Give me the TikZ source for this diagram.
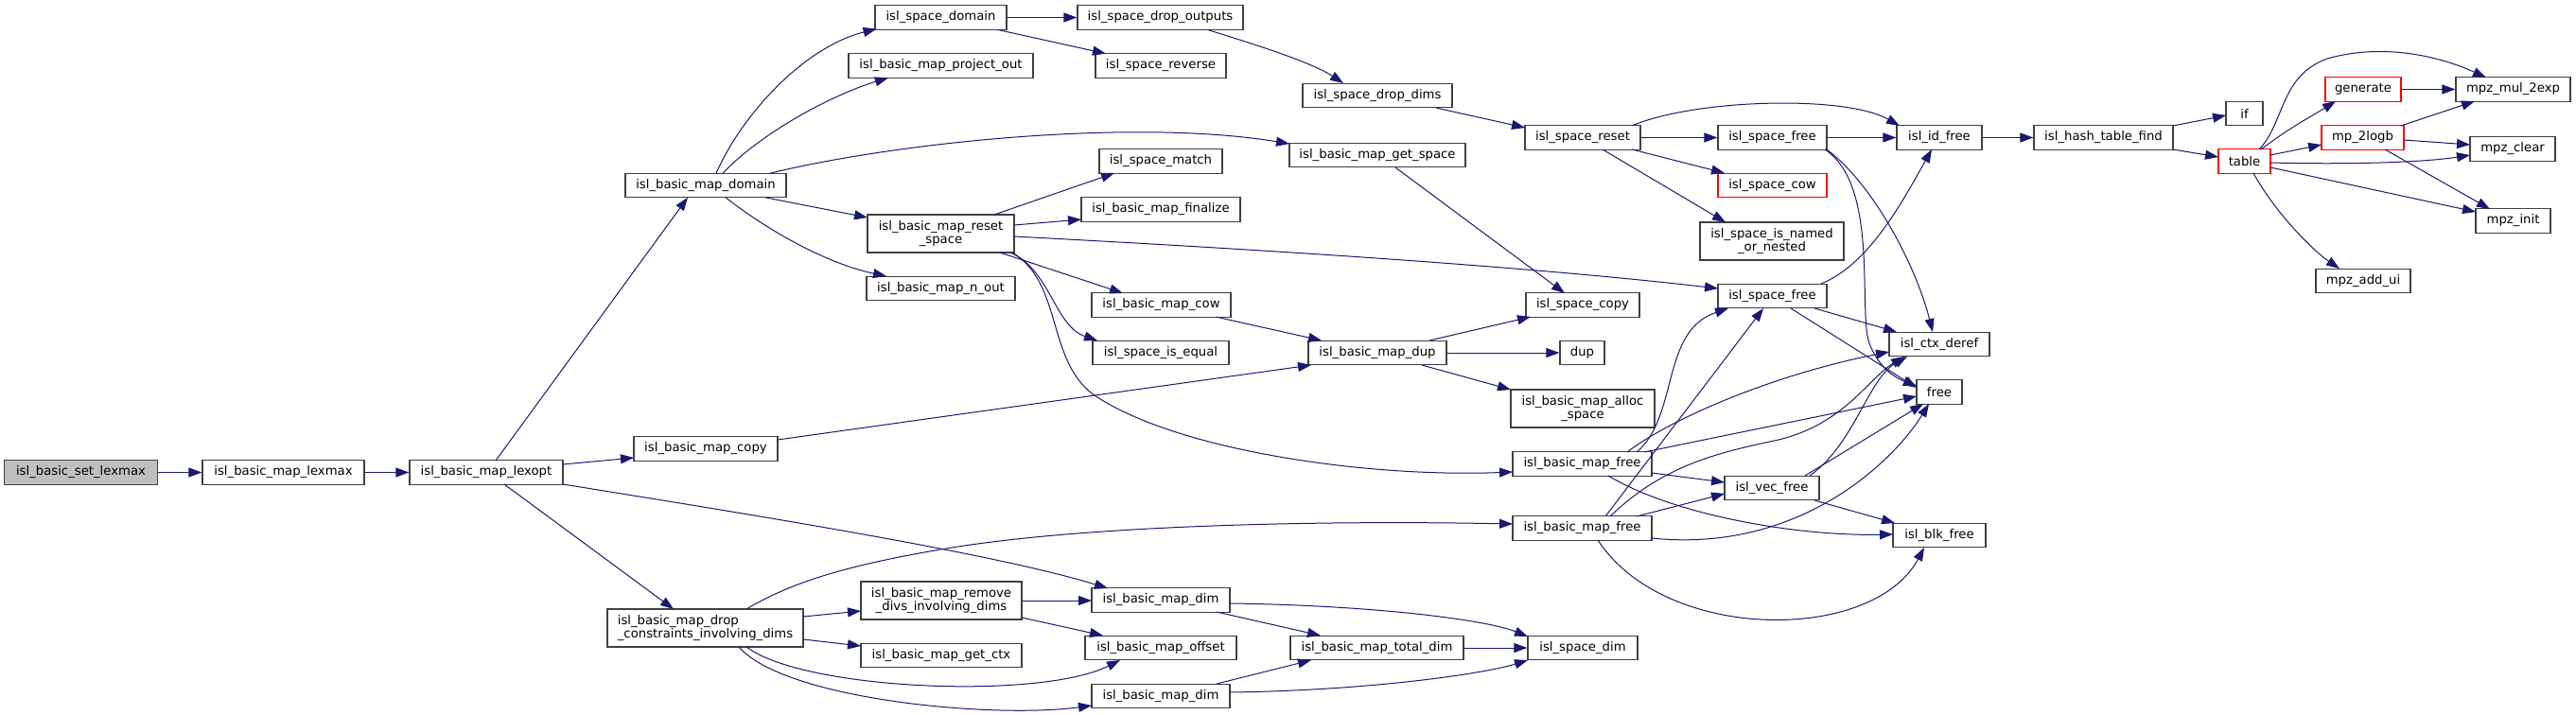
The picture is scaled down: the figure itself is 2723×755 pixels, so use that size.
\documentclass[tikz,border=0pt]{standalone}
\usepackage{fontspec}
\setmainfont{DejaVu Sans}
\usetikzlibrary{arrows.meta}
\definecolor{edgec}{HTML}{191970}
\definecolor{bord}{HTML}{404040}
\begin{document}
\begin{tikzpicture}[x=0.5pt,y=-0.5pt,
  box/.style={draw=bord, line width=0.6pt, fill=white, inner sep=0pt,
    minimum height=12.75pt, font=\fontsize{6.62pt}{7.3pt}\selectfont},
  bw/.style={minimum width=#1*0.5pt},
  two/.style={minimum height=20pt, align=center},
  twol/.style={minimum height=20pt, align=left},
  redbox/.style={draw=red},
  root/.style={fill=gray!50},
  e/.style={draw=edgec, line width=0.5pt, -{Triangle[length=7pt,width=5pt]}}]
\useasboundingbox (0,0) rectangle (2723,755);

% nodes
\node[box,root,bw=162] (n1) at (85.5,499.5) {isl\_basic\_set\_lexmax};
\node[box,bw=171] (n2) at (299.5,499.5) {isl\_basic\_map\_lexmax};
\node[box,bw=162] (n3) at (514,499.5) {isl\_basic\_map\_lexopt};
\node[box,bw=170] (n4) at (746,196) {isl\_basic\_map\_domain};
\node[box,bw=152] (n5) at (746,474.5) {isl\_basic\_map\_copy};
\node[box,twol,bw=207] (n6) at (745.5,664) {isl\_basic\_map\_drop\\\_constraints\_involving\_dims};
\node[box,bw=139] (n7) at (994.5,18.5) {isl\_space\_domain};
\node[box,bw=195] (n8) at (994.5,69.5) {isl\_basic\_map\_project\_out};
\node[box,two,bw=155] (n9) at (994.5,247) {isl\_basic\_map\_reset\\\_space};
\node[box,bw=157] (n10) at (994.5,305) {isl\_basic\_map\_n\_out};
\node[box,two,bw=170] (n11) at (995,635) {isl\_basic\_map\_remove\\\_divs\_involving\_dims};
\node[box,bw=170] (n12) at (995,693) {isl\_basic\_map\_get\_ctx};
\node[box,bw=175] (n13) at (1226.5,18.5) {isl\_space\_drop\_outputs};
\node[box,bw=138] (n14) at (1227,69.5) {isl\_space\_reverse};
\node[box,bw=130] (n15) at (1227,170.5) {isl\_space\_match};
\node[box,bw=168] (n16) at (1227,221.5) {isl\_basic\_map\_finalize};
\node[box,bw=147] (n17) at (1227.5,322.5) {isl\_basic\_map\_cow};
\node[box,bw=144] (n18) at (1227,373) {isl\_space\_is\_equal};
\node[box,bw=146] (n19) at (1227,634.5) {isl\_basic\_map\_dim};
\node[box,bw=160] (n20) at (1227,685) {isl\_basic\_map\_offset};
\node[box,bw=146] (n21) at (1227,736) {isl\_basic\_map\_dim};
\node[box,bw=158] (n22) at (1456,101) {isl\_space\_drop\_dims};
\node[box,bw=186] (n23) at (1456,164) {isl\_basic\_map\_get\_space};
\node[box,bw=146] (n24) at (1456,373) {isl\_basic\_map\_dup};
\node[box,bw=183] (n25) at (1455.5,685) {isl\_basic\_map\_total\_dim};
\node[box,bw=122] (n26) at (1673,145.5) {isl\_space\_reset};
\node[box,bw=120] (n27) at (1673,322.5) {isl\_space\_copy};
\node[box,bw=47] (n28) at (1672.5,373) {dup};
\node[box,two,bw=152] (n29) at (1673,432) {isl\_basic\_map\_alloc\\\_space};
\node[box,bw=147] (n30) at (1672.5,490.5) {isl\_basic\_map\_free};
\node[box,bw=147] (n31) at (1672.5,558.5) {isl\_basic\_map\_free};
\node[box,bw=116] (n32) at (1673,685) {isl\_space\_dim};
\node[box,bw=115] (n33) at (1873.5,145.5) {isl\_space\_free};
\node[box,redbox,bw=115] (n34) at (1873.5,196) {isl\_space\_cow};
\node[box,two,bw=152] (n35) at (1873,255) {isl\_space\_is\_named\\\_or\_nested};
\node[box,bw=115] (n36) at (1873.5,313) {isl\_space\_free};
\node[box,bw=100] (n37) at (1873,516) {isl\_vec\_free};
\node[box,bw=90] (n38) at (2050,145.5) {isl\_id\_free};
\node[box,bw=106] (n39) at (2050,364) {isl\_ctx\_deref};
\node[box,bw=48] (n40) at (2050,414.5) {free};
\node[box,bw=98] (n41) at (2050,566) {isl\_blk\_free};
\node[box,bw=147] (n42) at (2223.5,145.5) {isl\_hash\_table\_find};
\node[box,bw=39] (n43) at (2372.5,120) {if};
\node[box,redbox,bw=55] (n44) at (2372.5,170.5) {table};
\node[box,redbox,bw=80] (n45) at (2498,94.5) {generate};
\node[box,redbox,bw=87] (n46) at (2497.5,145.5) {mp\_2logb};
\node[box,bw=100] (n47) at (2498,297) {mpz\_add\_ui};
\node[box,bw=121] (n48) at (2656.5,94.5) {mpz\_mul\_2exp};
\node[box,bw=90] (n49) at (2656,157.5) {mpz\_clear};
\node[box,bw=79] (n50) at (2656.5,233.5) {mpz\_init};

% edges
\draw[e] (n1) -- (n2);
\draw[e] (n2) -- (n3);
\draw[e] ([shift={(10,-12.5)}]n3.center) -- ([shift={(-19,12.8)}]n4.center);
\draw[e] ([shift={(81,-8.5)}]n3.center) -- ([shift={(-76,9.5)}]n5.center);
\draw[e] ([shift={(81,12.5)}]n3.center) .. controls (800,545) and (1050,585) .. ([shift={(-56,-12.5)}]n19.center);
\draw[e] ([shift={(19,12.5)}]n3.center) -- ([shift={(-33.5,-20)}]n6.center);
\draw[e] ([shift={(11,-12.8)}]n4.center) .. controls (785,120) and (850,50) .. ([shift={(-68,12)}]n7.center);
\draw[e] ([shift={(18,-12.8)}]n4.center) .. controls (805,140) and (880,100) .. ([shift={(-55.5,12.8)}]n8.center);
\draw[e] ([shift={(68,-12.8)}]n4.center) .. controls (950,150) and (1200,125) .. ([shift={(-93,-12)}]n23.center);
\draw[e] ([shift={(63,12.8)}]n4.center) -- ([shift={(-77.5,-17)}]n9.center);
\draw[e] ([shift={(21,12.8)}]n4.center) .. controls (820,250) and (880,280) .. ([shift={(-57.5,-13)}]n10.center);
\draw[e] (n7) -- (n13);
\draw[e] ([shift={(59.5,12.8)}]n7.center) -- ([shift={(-58,-12.8)}]n14.center);
\draw[e] ([shift={(49.5,12.8)}]n13.center) .. controls (1320,45) and (1385,65) .. ([shift={(-36,-13)}]n22.center);
\draw[e] ([shift={(62,13)}]n22.center) -- ([shift={(-61,-10.5)}]n26.center);
\draw[e] ([shift={(56.5,-20)}]n9.center) -- ([shift={(-49,12.5)}]n15.center);
\draw[e] ([shift={(77.5,-9)}]n9.center) -- ([shift={(-84,10.5)}]n16.center);
\draw[e] ([shift={(77.5,3)}]n9.center) .. controls (1300,262) and (1600,280) .. ([shift={(-57.5,-8)}]n36.center);
\draw[e] ([shift={(62.5,20)}]n9.center) -- ([shift={(-40.5,-12.5)}]n17.center);
\draw[e] ([shift={(73.5,20)}]n9.center) .. controls (1110,285) and (1115,345) .. ([shift={(-67,-13)}]n18.center);
\draw[e] ([shift={(75.5,20)}]n9.center) .. controls (1125,300) and (1105,385) .. (1160,420) .. controls (1250,478) and (1450,505) .. ([shift={(-73.5,8.5)}]n30.center);
\draw[e] ([shift={(57.5,12.5)}]n17.center) -- ([shift={(-59,-13)}]n24.center);
\draw[e] ([shift={(76,-9.5)}]n5.center) -- ([shift={(-70,13)}]n24.center);
\draw[e] ([shift={(19,13)}]n23.center) -- ([shift={(-19,-12.5)}]n27.center);
\draw[e] ([shift={(55,-13)}]n24.center) -- ([shift={(-55,12.5)}]n27.center);
\draw[e] (n24) -- (n28);
\draw[e] ([shift={(47,13)}]n24.center) -- ([shift={(-76,-20)}]n29.center);
\draw[e] (n26) -- (n33);
\draw[e] ([shift={(52,-12.5)}]n26.center) .. controls (1790,105) and (1950,100) .. ([shift={(-42,-12.5)}]n38.center);
\draw[e] ([shift={(52,12.5)}]n26.center) -- ([shift={(-50.5,-13)}]n34.center);
\draw[e] ([shift={(21,12.5)}]n26.center) -- ([shift={(-49,-20)}]n35.center);
\draw[e] (n33) -- (n38);
\draw[e] ([shift={(57.5,12.5)}]n33.center) .. controls (1980,195) and (2025,280) .. ([shift={(-7,-13)}]n39.center);
\draw[e] ([shift={(55.5,12.5)}]n33.center) .. controls (1985,195) and (1965,320) .. (1975,360) .. controls (1985,390) and (2005,400) .. ([shift={(-24,-6.5)}]n40.center);
\draw[e] ([shift={(51.5,-13)}]n36.center) .. controls (1975,280) and (2010,215) .. ([shift={(-8,12.5)}]n38.center);
\draw[e] ([shift={(44.5,13)}]n36.center) -- ([shift={(-45,-13)}]n39.center);
\draw[e] ([shift={(19.5,13)}]n36.center) -- ([shift={(-24,-4.5)}]n40.center);
\draw[e] (n38) -- (n42);
\draw[e] ([shift={(73.5,-12.5)}]n42.center) -- ([shift={(-19.5,2)}]n43.center);
\draw[e] ([shift={(73.5,12.5)}]n42.center) -- ([shift={(-27.5,-4.5)}]n44.center);
\draw[e] ([shift={(17.5,-12.5)}]n44.center) .. controls (2420,135) and (2445,122) .. ([shift={(-29,12.5)}]n45.center);
\draw[e] ([shift={(27.5,-6.5)}]n44.center) -- ([shift={(-43.5,7.5)}]n46.center);
\draw[e] ([shift={(15.5,-12.5)}]n44.center) .. controls (2415,130) and (2410,80) .. (2460,62) .. controls (2520,45) and (2580,60) .. ([shift={(-28.5,-12.5)}]n48.center);
\draw[e] ([shift={(27.5,1.5)}]n44.center) .. controls (2480,174) and (2560,172) .. ([shift={(-45,6.5)}]n49.center);
\draw[e] ([shift={(27.5,6.5)}]n44.center) -- ([shift={(-39.5,-9.5)}]n50.center);
\draw[e] ([shift={(9.5,12.5)}]n44.center) .. controls (2405,225) and (2445,265) .. ([shift={(-25,-13)}]n47.center);
\draw[e] (n45) -- (n48);
\draw[e] ([shift={(40.5,-12.5)}]n46.center) -- ([shift={(-40.5,12.5)}]n48.center);
\draw[e] ([shift={(43.5,2.5)}]n46.center) -- ([shift={(-45,-4.5)}]n49.center);
\draw[e] ([shift={(23.5,12.5)}]n46.center) -- ([shift={(-24.5,-12.5)}]n50.center);
\draw[e] ([shift={(57.5,-12.5)}]n30.center) .. controls (1775,440) and (1755,350) .. ([shift={(-46.5,13)}]n36.center);
\draw[e] ([shift={(47.5,-12.5)}]n30.center) .. controls (1770,440) and (1880,395) .. ([shift={(-53,8)}]n39.center);
\draw[e] ([shift={(65.5,-12.5)}]n30.center) -- ([shift={(-24,4.5)}]n40.center);
\draw[e] ([shift={(73.5,9.5)}]n30.center) -- ([shift={(-50,-6)}]n37.center);
\draw[e] ([shift={(27.5,12.5)}]n30.center) .. controls (1770,545) and (1900,567) .. ([shift={(-49,-1)}]n41.center);
\draw[e] ([shift={(24.5,-12.5)}]n31.center) -- ([shift={(-9.5,13)}]n36.center);
\draw[e] ([shift={(29.5,-12.5)}]n31.center) .. controls (1760,490) and (1820,478) .. (1880,465) .. controls (1950,448) and (1975,400) .. ([shift={(-37,13)}]n39.center);
\draw[e] ([shift={(57.5,-12.5)}]n31.center) -- ([shift={(-50,6)}]n37.center);
\draw[e] ([shift={(73.5,10.5)}]n31.center) .. controls (1900,585) and (2000,490) .. ([shift={(-11,12.5)}]n40.center);
\draw[e] ([shift={(16.5,12.5)}]n31.center) .. controls (1760,680) and (1980,680) .. ([shift={(-16,13)}]n41.center);
\draw[e] ([shift={(40,-13)}]n37.center) .. controls (1960,470) and (1975,400) .. ([shift={(-34,13)}]n39.center);
\draw[e] ([shift={(35,-13)}]n37.center) -- ([shift={(-17,12.5)}]n40.center);
\draw[e] ([shift={(45,13)}]n37.center) -- ([shift={(-47,-13)}]n41.center);
\draw[e] ([shift={(43.5,-20)}]n6.center) .. controls (830,620) and (880,600) .. (1000,580) .. controls (1150,555) and (1400,550) .. ([shift={(-73.5,-4.5)}]n31.center);
\draw[e] ([shift={(103.5,-12)}]n6.center) -- ([shift={(-85,11)}]n11.center);
\draw[e] ([shift={(103.5,12)}]n6.center) -- ([shift={(-85,-10)}]n12.center);
\draw[e] ([shift={(43.5,20)}]n6.center) .. controls (850,730) and (1100,740) .. ([shift={(-43,13)}]n20.center);
\draw[e] ([shift={(35.5,20)}]n6.center) .. controls (830,740) and (1050,760) .. ([shift={(-73,10)}]n21.center);
\draw[e] ([shift={(85,0)}]n11.center) -- ([shift={(-73,0.5)}]n19.center);
\draw[e] ([shift={(85,18)}]n11.center) -- ([shift={(-61,-13)}]n20.center);
\draw[e] ([shift={(59,12.5)}]n19.center) -- ([shift={(-59.5,-13)}]n25.center);
\draw[e] ([shift={(73,3.5)}]n19.center) .. controls (1450,640) and (1570,655) .. ([shift={(-58,-12)}]n32.center);
\draw[e] ([shift={(59,-13)}]n21.center) -- ([shift={(-69.5,13)}]n25.center);
\draw[e] ([shift={(73,-4)}]n21.center) .. controls (1450,730) and (1570,712) .. ([shift={(-58,13)}]n32.center);
\draw[e] (n25) -- (n32);
\end{tikzpicture}
\end{document}
